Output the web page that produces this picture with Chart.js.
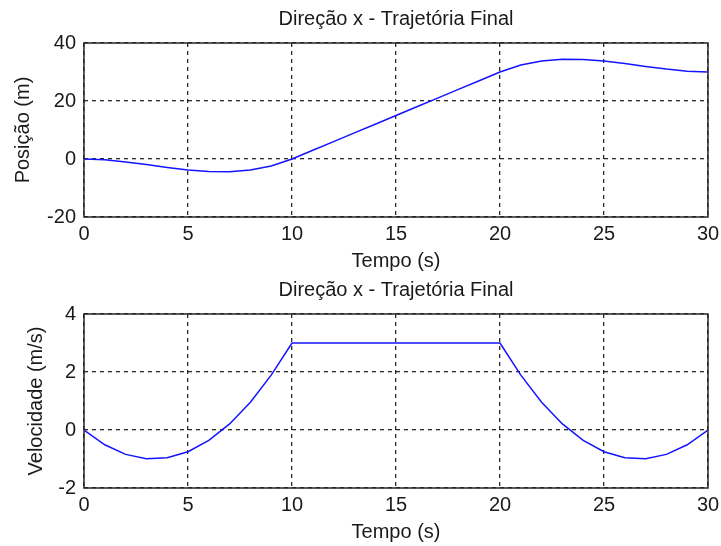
<!DOCTYPE html>
<html>
<head>
<meta charset="utf-8">
<script src="https://cdn.jsdelivr.net/npm/chart.js@4"></script>
<style>
  body { margin: 0; background: #fff; }
  .plot { position: absolute; left: 0; }
</style>
</head>
<body>
<div class="plot" style="top:0"><canvas id="pos-chart" width="721" height="273"></canvas></div>
<div class="plot" style="top:271px"><canvas id="vel-chart" width="721" height="273"></canvas></div>
<script>
// time samples (s)
const tempo = [0, 1, 2, 3, 4, 5, 6, 7, 8, 9, 10,
  11, 12, 13, 14, 15, 16, 17, 18, 19, 20,
  21, 22, 23, 24, 25, 26, 27, 28, 29, 30];

// position (m)
const posicao = [0, -0.3, -1.0, -1.9, -2.9, -3.8, -4.3, -4.4, -3.8, -2.4, 0,
  3, 6, 9, 12, 15, 18, 21, 24, 27, 30,
  32.4, 33.8, 34.4, 34.3, 33.8, 32.9, 31.9, 31.0, 30.3, 30];

// velocity (m/s)
const velocidade = [0, -0.51, -0.84, -0.99, -0.96, -0.75, -0.36, 0.21, 0.96, 1.89, 3.0,
  3, 3, 3, 3, 3, 3, 3, 3, 3, 3.0,
  1.89, 0.96, 0.21, -0.36, -0.75, -0.96, -0.99, -0.84, -0.51, 0];

const xTicks = [0, 5, 10, 15, 20, 25, 30];
const posTicks = [-20, 0, 20, 40];
const velTicks = [-2, 0, 2, 4];

const FONT = { family: '"Liberation Sans", Arial, sans-serif', size: 20 };
const TEXT = '#1a1a1a';
const GRID = '#2a2a2a';

// MATLAB style box around the axes
const framePlugin = {
  id: 'frame',
  afterDatasetsDraw(chart) {
    const a = chart.chartArea;
    const ctx = chart.ctx;
    ctx.save();
    ctx.strokeStyle = '#262626';
    ctx.lineWidth = 1.5;
    ctx.setLineDash([]);
    ctx.strokeRect(a.left, a.top, a.right - a.left, a.bottom - a.top);
    ctx.restore();
  }
};

function makeChart(id, values, yTicks, yLabel, yTitlePad) {
  const ctx = document.getElementById(id).getContext('2d');
  return new Chart(ctx, {
    type: 'line',
    data: {
      datasets: [{
        data: tempo.map((t, i) => ({ x: t, y: values[i] })),
        borderColor: 'rgb(20, 20, 255)',
        borderWidth: 1.5,
        pointRadius: 0,
        tension: 0,
        fill: false
      }]
    },
    options: {
      responsive: false,
      animation: false,
      layout: { padding: { left: 0, right: 13, top: 0, bottom: 0 } },
      plugins: {
        legend: { display: false },
        tooltip: { enabled: false },
        title: {
          display: true,
          text: 'Direção x - Trajetória Final',
          fullSize: false,
          color: TEXT,
          font: { ...FONT, weight: 'normal' },
          padding: { top: 7, bottom: 12 }
        }
      },
      scales: {
        x: {
          type: 'linear',
          min: 0,
          max: 30,
          afterBuildTicks: axis => { axis.ticks = xTicks.map(v => ({ value: v })); },
          afterFit: axis => {
            axis.height = 56;
            axis.paddingLeft = 0;
            axis.paddingRight = 0;
          },
          ticks: { color: TEXT, font: FONT, padding: 5, maxRotation: 0 },
          grid: { color: GRID, lineWidth: 1.3, drawTicks: false },
          border: { display: false, dash: [4, 4] },
          title: { display: true, text: 'Tempo (s)', color: TEXT, font: FONT, padding: 0 }
        },
        y: {
          type: 'linear',
          min: yTicks[0],
          max: yTicks[yTicks.length - 1],
          afterBuildTicks: axis => { axis.ticks = yTicks.map(v => ({ value: v })); },
          afterFit: axis => { axis.width = 84; },
          ticks: { color: TEXT, font: FONT, padding: 8 },
          grid: { color: GRID, lineWidth: 1.3, drawTicks: false },
          border: { display: false, dash: [4, 4] },
          title: { display: true, text: yLabel, color: TEXT, font: FONT, padding: { top: yTitlePad, bottom: 0 } }
        }
      }
    },
    plugins: [framePlugin]
  });
}

makeChart('pos-chart', posicao, posTicks, 'Posição (m)', 11);
makeChart('vel-chart', velocidade, velTicks, 'Velocidade (m/s)', 24);
</script>
</body>
</html>
